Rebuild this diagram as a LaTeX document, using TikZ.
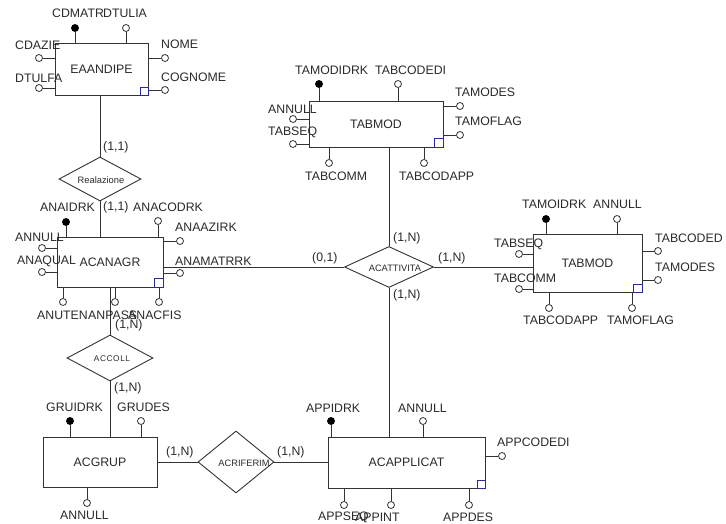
\documentclass[tikz,border=0pt]{standalone}
\usepackage{fontspec}
\usetikzlibrary{shapes.geometric}
\newfontfamily\erarial{Liberation Sans}
\newcommand\erlbl{\erarial\fontsize{12.3}{14}\selectfont}
\newcommand\erdia{\erarial\fontsize{9.3}{11}\selectfont}
\newcommand\erdiasm{\erarial\fontsize{8.3}{10}\selectfont}
\definecolor{linec}{HTML}{333333}
\definecolor{txtc}{HTML}{2a2a2a}
\definecolor{sqc}{HTML}{2a2aa0}
\begin{document}
\begin{tikzpicture}[x=1pt,y=-1pt,
  ent/.style={draw=linec, line width=0.9pt, rectangle, inner sep=0, font=\erlbl, text=txtc},
  rel/.style={draw=linec, line width=0.9pt, diamond, inner sep=0},
  dtext/.style={inner sep=0, font=\erdia, text=txtc},
  kcirc/.style={circle, draw=black, fill=black, line width=0.8pt, inner sep=0, minimum size=7pt},
  ocirc/.style={circle, draw=linec, fill=white, line width=0.8pt, inner sep=0, minimum size=7pt},
  lab/.style={anchor=west, inner sep=0, font=\erlbl, text=txtc},
  conn/.style={draw=linec, line width=0.9pt},
  bluesq/.style={draw=sqc, line width=0.8pt}]
\useasboundingbox[fill=white] (0,0) rectangle (726,524);

% ---------- entities ----------
\node[ent, minimum width=93pt, minimum height=52pt] (eaandipe) at (101.5,69) {EAANDIPE};
\node[ent, minimum width=106pt, minimum height=50pt] (acanagr) at (110,262) {ACANAGR};
\node[ent, minimum width=114pt, minimum height=50pt] (acgrup) at (100,462) {ACGRUP};
\node[ent, minimum width=157pt, minimum height=51pt] (acapplicat) at (406.5,462.5) {ACAPPLICAT};
\node[ent, minimum width=134pt, minimum height=46pt] (tabmodA) at (376,124) {TABMOD};
\node[ent, minimum width=109pt, minimum height=58pt] (tabmodB) at (587.5,263) {TABMOD};

% small blue squares
\draw[bluesq] (eaandipe.south east) rectangle ++(-8,-8);
\draw[bluesq] (acanagr.south east) rectangle ++(-9,-9);
\draw[bluesq] (acapplicat.south east) rectangle ++(-8,-8);
\draw[bluesq] (tabmodA.south east) rectangle ++(-9,-9);
\draw[bluesq] (tabmodB.south east) rectangle ++(-9,-8);

% ---------- relationships ----------
\node[rel, minimum width=82pt, minimum height=44pt] (realaz) at (100,179) {};
\node[dtext] (realazT) at (101,180) {Realazione};
\node[rel, minimum width=86pt, minimum height=46pt] (accoll) at (110,358) {};
\node[dtext, font=\erdiasm] (accollT) at (112,359) {A\kern0.6pt C\kern0.6pt C\kern0.6pt O\kern0.6pt L\kern0.6pt L};
\node[rel, minimum width=76pt, minimum height=62pt] (acrif) at (236,462) {};
\node[dtext] (acrifT) at (244,463) {ACRIFERIM};
\node[rel, minimum width=89pt, minimum height=41pt] (acatt) at (389,267) {};
\node[dtext] (acattT) at (395,268) {ACATTIVITA};

% ---------- connectors ----------
\draw[conn] (realaz.north |- eaandipe.south) -- (realaz.north);
\draw[conn] (realaz.south) -- (realaz.south |- acanagr.north);
\draw[conn] (acanagr.south) -- (accoll.north);
\draw[conn] (accoll.south) -- (accoll.south |- acgrup.north);
\draw[conn] (acgrup.east) -- (acrif.west);
\draw[conn] (acrif.east) -- (acrif.east -| acapplicat.west);
\draw[conn] (acanagr.east |- acatt.west) -- (acatt.west);
\draw[conn] (acatt.east) -- (acatt.east -| tabmodB.west);
\draw[conn] (acatt.north |- tabmodA.south) -- (acatt.north);
\draw[conn] (acatt.south) -- (acatt.south |- acapplicat.north);

% cardinalities
\node[lab] (c1) at (103,147) {(1,1)};
\node[lab] (c2) at (103,207) {(1,1)};
\node[lab] (c3) at (115,325) {(1,N)};
\node[lab] (c4) at (114,388) {(1,N)};
\node[lab] (c5) at (166,452) {(1,N)};
\node[lab] (c6) at (277,452) {(1,N)};
\node[lab] (c7) at (312,258) {(0,1)};
\node[lab] (c8) at (393,238) {(1,N)};
\node[lab] (c9) at (438,258) {(1,N)};
\node[lab] (c10) at (393,295) {(1,N)};

% ---------- EAANDIPE attributes ----------
\node[kcirc] (e1) at (75,28) {};   \draw[conn] (e1) -- (e1 |- eaandipe.north);
\node[ocirc] (e2) at (126,28) {};  \draw[conn] (e2) -- (e2 |- eaandipe.north);
\node[ocirc] (e3) at (39,58) {};   \draw[conn] (e3) -- (e3 -| eaandipe.west);
\node[ocirc] (e4) at (39,88) {};   \draw[conn] (e4) -- (e4 -| eaandipe.west);
\node[ocirc] (e5) at (165,58) {};  \draw[conn] (e5) -- (e5 -| eaandipe.east);
\node[ocirc] (e6) at (165,90) {};  \draw[conn] (e6) -- (e6 -| eaandipe.east);
\node[lab] (e1t) at (52,13) {CDMATR};
\node[lab] (e2t) at (103,13) {DTULIA};
\node[lab] (e3t) at (15,45) {CDAZIE};
\node[lab] (e4t) at (15,78) {DTULFA};
\node[lab] (e5t) at (161,44) {NOME};
\node[lab] (e6t) at (161,77) {COGNOME};

% ---------- ACANAGR attributes ----------
\node[kcirc] (n1) at (66,222) {};  \draw[conn] (n1) -- (n1 |- acanagr.north);
\node[ocirc] (n2) at (158,221) {}; \draw[conn] (n2) -- (n2 |- acanagr.north);
\node[ocirc] (n3) at (180,241) {}; \draw[conn] (n3) -- (n3 -| acanagr.east);
\node[ocirc] (n4) at (42,248) {};  \draw[conn] (n4) -- (n4 -| acanagr.west);
\node[ocirc] (n5) at (42,272) {};  \draw[conn] (n5) -- (n5 -| acanagr.west);
\node[ocirc] (n6) at (180,273) {}; \draw[conn] (n6) -- (n6 -| acanagr.east);
\node[ocirc] (n7) at (63,302) {};  \draw[conn] (n7) -- (n7 |- acanagr.south);
\node[ocirc] (n8) at (115,302) {}; \draw[conn] (n8) -- (n8 |- acanagr.south);
\node[ocirc] (n9) at (159,302) {}; \draw[conn] (n9) -- (n9 |- acanagr.south);
\node[lab] (n1t) at (40,207) {ANAIDRK};
\node[lab] (n2t) at (133,207) {ANACODRK};
\node[lab] (n3t) at (175,227) {ANAAZIRK};
\node[lab] (n4t) at (15,237) {ANNULL};
\node[lab] (n5t) at (17,261) {ANAQUAL};
\node[lab] (n6t) at (175,261) {ANAMATRRK};
\node[lab] (n7t) at (37,315) {ANUTEN};
\node[lab] (n8t) at (88,315) {ANPASS};
\node[lab] (n9t) at (128,315) {ANACFIS};

% ---------- ACGRUP attributes ----------
\node[kcirc] (g1) at (70,421) {};  \draw[conn] (g1) -- (g1 |- acgrup.north);
\node[ocirc] (g2) at (141,421) {}; \draw[conn] (g2) -- (g2 |- acgrup.north);
\node[ocirc] (g3) at (87,503) {};  \draw[conn] (g3) -- (g3 |- acgrup.south);
\node[lab] (g1t) at (46,407) {GRUIDRK};
\node[lab] (g2t) at (117,407) {GRUDES};
\node[lab] (g3t) at (60,515) {ANNULL};

% ---------- ACAPPLICAT attributes ----------
\node[kcirc] (p1) at (331,421) {}; \draw[conn] (p1) -- (p1 |- acapplicat.north);
\node[ocirc] (p2) at (423,421) {}; \draw[conn] (p2) -- (p2 |- acapplicat.north);
\node[ocirc] (p3) at (502,456) {}; \draw[conn] (p3) -- (p3 -| acapplicat.east);
\node[ocirc] (p4) at (344,505) {}; \draw[conn] (p4) -- (p4 |- acapplicat.south);
\node[ocirc] (p5) at (391,505) {}; \draw[conn] (p5) -- (p5 |- acapplicat.south);
\node[ocirc] (p6) at (469,505) {}; \draw[conn] (p6) -- (p6 |- acapplicat.south);
\node[lab] (p1t) at (306,408) {APPIDRK};
\node[lab] (p2t) at (398,408) {ANNULL};
\node[lab] (p3t) at (497,442) {APPCODEDI};
\node[lab] (p4t) at (318,517) {APPSEQ};
\node[lab] (p5t) at (355,517) {APPINT};
\node[lab] (p6t) at (443,517) {APPDES};

% ---------- TABMOD (top) attributes ----------
\node[kcirc] (t1) at (319,84) {};  \draw[conn] (t1) -- (t1 |- tabmodA.north);
\node[ocirc] (t2) at (398,84) {};  \draw[conn] (t2) -- (t2 |- tabmodA.north);
\node[ocirc] (t3) at (460,106) {}; \draw[conn] (t3) -- (t3 -| tabmodA.east);
\node[ocirc] (t4) at (460,135) {}; \draw[conn] (t4) -- (t4 -| tabmodA.east);
\node[ocirc] (t5) at (293,119) {}; \draw[conn] (t5) -- (t5 -| tabmodA.west);
\node[ocirc] (t6) at (293,144) {}; \draw[conn] (t6) -- (t6 -| tabmodA.west);
\node[ocirc] (t7) at (329,163) {}; \draw[conn] (t7) -- (t7 |- tabmodA.south);
\node[ocirc] (t8) at (424,163) {}; \draw[conn] (t8) -- (t8 |- tabmodA.south);
\node[lab] (t1t) at (295,70) {TAMODIDRK};
\node[lab] (t2t) at (375,70) {TABCODEDI};
\node[lab] (t3t) at (455,92) {TAMODES};
\node[lab] (t4t) at (455,121) {TAMOFLAG};
\node[lab] (t5t) at (268,109) {ANNULL};
\node[lab] (t6t) at (268,132) {TABSEQ};
\node[lab] (t7t) at (305,176) {TABCOMM};
\node[lab] (t8t) at (399,176) {TABCODAPP};

% ---------- TABMOD (right) attributes ----------
\node[kcirc] (m1) at (546,219) {}; \draw[conn] (m1) -- (m1 |- tabmodB.north);
\node[ocirc] (m2) at (617,219) {}; \draw[conn] (m2) -- (m2 |- tabmodB.north);
\node[ocirc] (m3) at (658,251) {}; \draw[conn] (m3) -- (m3 -| tabmodB.east);
\node[ocirc] (m4) at (658,280) {}; \draw[conn] (m4) -- (m4 -| tabmodB.east);
\node[ocirc] (m5) at (519,254) {}; \draw[conn] (m5) -- (m5 -| tabmodB.west);
\node[ocirc] (m6) at (519,289) {}; \draw[conn] (m6) -- (m6 -| tabmodB.west);
\node[ocirc] (m7) at (549,308) {}; \draw[conn] (m7) -- (m7 |- tabmodB.south);
\node[ocirc] (m8) at (632,308) {}; \draw[conn] (m8) -- (m8 |- tabmodB.south);
\node[lab] (m1t) at (522,204) {TAMOIDRK};
\node[lab] (m2t) at (593,204) {ANNULL};
\node[lab] (m3t) at (655,238) {TABCODED};
\node[lab] (m4t) at (655,267) {TAMODES};
\node[lab] (m5t) at (494,244) {TABSEQ};
\node[lab] (m6t) at (494,278) {TABCOMM};
\node[lab] (m7t) at (523,320) {TABCODAPP};
\node[lab] (m8t) at (607,320) {TAMOFLAG};
\end{tikzpicture}
\end{document}
